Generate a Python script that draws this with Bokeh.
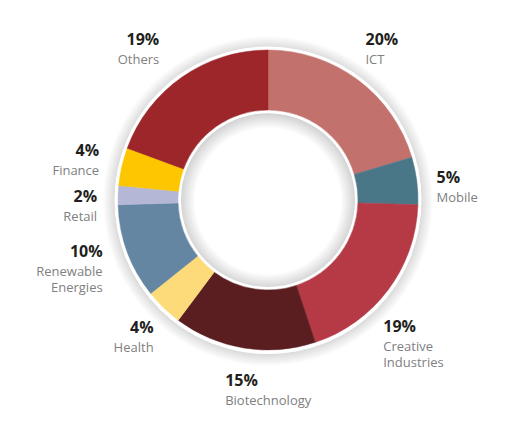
import math
from bokeh.plotting import figure
from bokeh.models import ColumnDataSource, Range1d
from bokeh.core.properties import value
from bokeh.embed import file_html
from bokeh.resources import INLINE

# ---- data ----
categories = ["ICT", "Mobile", "Creative Industries", "Biotechnology", "Health",
              "Renewable Energies", "Retail", "Finance", "Others"]
shares = [20, 5, 19, 15, 4, 10, 2, 4, 19]
pct_labels = ["20%", "5%", "19%", "15%", "4%", "10%", "2%", "4%", "19%"]
name_lines = [["ICT"], ["Mobile"], ["Creative", "Industries"], ["Biotechnology"], ["Health"],
              ["Renewable", "Energies"], ["Retail"], ["Finance"], ["Others"]]
colors = ["#C2716C", "#4A7788", "#B53A45", "#5A1E21", "#FDDA7A",
          "#6586A2", "#B4B8D6", "#FEC600", "#9D262B"]

# ---- layout ----
W, H = 512, 413
CX, CY = 267.5, H - 199.5      # ring centre (data units = px)
R_OUT, R_IN = 150, 90
label_nudge = [-5.5, -0.3, 10.9, 4.2, -2.1, 3.1, -0.5, 3.5, 0.8]   # deg
label_radius = [188, 170, 171, 185, 171, 173, 171, 176, 194]
label_align = ["left", "left", "left", "left", "right", "right", "right", "right", "right"]

p = figure(width=W, height=H, output_backend="svg", toolbar_location=None,
           x_range=Range1d(0, W), y_range=Range1d(0, H),
           min_border=0, outline_line_color=None)
p.axis.visible = False
p.grid.visible = False
p.background_fill_color = "white"
p.border_fill_color = "white"

# shadows
for k in range(1, 13):
    p.annulus(x=[CX], y=[CY - 1], inner_radius=R_OUT + 3, outer_radius=R_OUT + 3 + k,
              fill_color="black", fill_alpha=0.011, line_color=None)
for k in range(1, 16):
    p.annulus(x=[CX], y=[CY - 1], inner_radius=R_IN - 2 - k, outer_radius=R_IN - 2,
              fill_color="black", fill_alpha=0.010, line_color=None)
# white rims
p.annulus(x=[CX], y=[CY], inner_radius=R_OUT - 1, outer_radius=R_OUT + 3.5,
          fill_color="white", line_color=None)
p.annulus(x=[CX], y=[CY], inner_radius=R_IN - 3, outer_radius=R_IN + 1,
          fill_color="white", line_color=None)

total = float(sum(shares))
starts, ends, mids = [], [], []
acc = 0.0
for s in shares:
    a1 = acc / total * 360.0
    acc += s
    a2 = acc / total * 360.0
    starts.append(90.0 - a2)
    ends.append(90.0 - a1)
    mids.append((a1 + a2) / 2.0)

src = ColumnDataSource(dict(x=[CX] * len(shares), y=[CY] * len(shares),
                            start=starts, end=ends, color=colors, cat=categories))
p.annular_wedge(x="x", y="y", inner_radius=R_IN, outer_radius=R_OUT,
                start_angle="start", end_angle="end", start_angle_units="deg",
                end_angle_units="deg", fill_color="color", line_color="color",
                line_width=0.5, source=src)

# labels
px, py, pt, pa = [], [], [], []
nx, ny, nt, na = [], [], [], []
for i in range(len(shares)):
    th = math.radians(mids[i] + label_nudge[i])
    ax = CX + label_radius[i] * math.sin(th)
    ay = CY + label_radius[i] * math.cos(th)
    px.append(ax); py.append(ay); pt.append(pct_labels[i]); pa.append(label_align[i])
    for j, line in enumerate(name_lines[i]):
        nx.append(ax); ny.append(ay - 20 - 16 * j); nt.append(line); na.append(label_align[i])

p.text(x="x", y="y", text="t", text_align="a", source=ColumnDataSource(dict(x=px, y=py, t=pt, a=pa)),
       text_font=value("Open Sans"), text_font_style="bold", text_font_size="16px",
       text_color="#231F20", text_baseline="middle")
p.text(x="x", y="y", text="t", text_align="a", source=ColumnDataSource(dict(x=nx, y=ny, t=nt, a=na)),
       text_font=value("Open Sans"), text_font_size="13px",
       text_color="#808080", text_baseline="middle")

open("out.html", "w").write(file_html(p, INLINE))
